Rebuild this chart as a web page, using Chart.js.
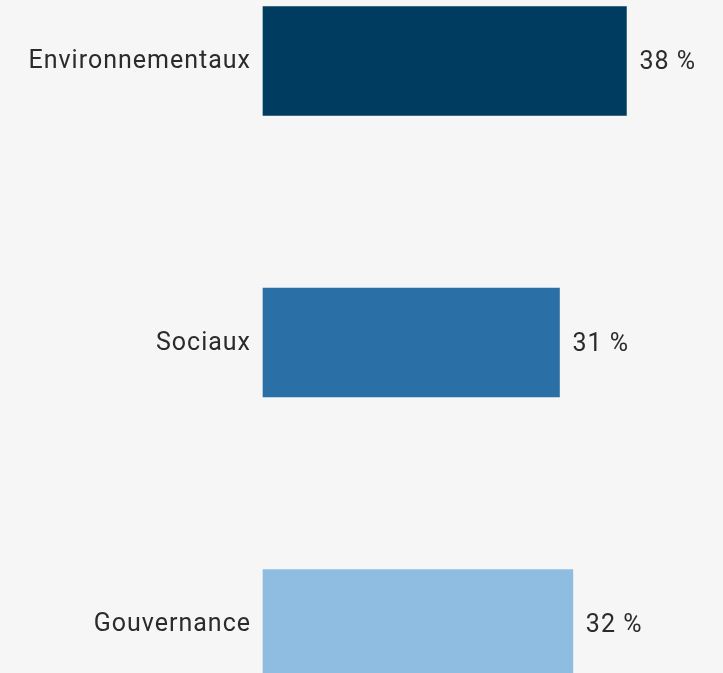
<!DOCTYPE html>
<html>
<head>
<meta charset="utf-8">
<script src="https://cdn.jsdelivr.net/npm/chart.js@4.4.1/dist/chart.umd.min.js"></script>
<style>
  html, body { margin: 0; padding: 0; background: #f6f6f6; }
  #wrap { width: 723px; height: 673px; }
</style>
</head>
<body>
<div id="wrap"><canvas id="esgChart"></canvas></div>
<script>
const categories = ["Environnementaux", "Sociaux", "Gouvernance"];
const shares = [38, 31, 32.4];
const barColors = ["#003c5f", "#2a6fa6", "#8fbde2"];

const fontFamily = "Roboto, 'Noto Sans', sans-serif";
const textColor = "#2b2b2b";

// value labels at the end of each bar, e.g. "38 %"
const valueLabels = {
    id: "valueLabels",
    afterDatasetsDraw(chart) {
        const ctx = chart.ctx;
        const meta = chart.getDatasetMeta(0);
        ctx.save();
        ctx.font = "25px " + fontFamily;
        ctx.fillStyle = textColor;
        ctx.textAlign = "left";
        ctx.textBaseline = "middle";
        ctx.letterSpacing = "1px";
        meta.data.forEach((bar, i) => {
            ctx.fillText(Math.round(shares[i]) + " %", bar.x + 13, bar.y + 2);
        });
        ctx.restore();
    }
};

const spacing = {
    id: "spacing",
    beforeDraw(chart) { chart.ctx.letterSpacing = "1px"; }
};

const ctx = document.getElementById("esgChart").getContext("2d");

new Chart(ctx, {
    type: "bar",
    data: {
        labels: categories,
        datasets: [{
            data: shares,
            backgroundColor: barColors,
            borderWidth: 0,
            barThickness: 109,
            clip: false
        }]
    },
    options: {
        indexAxis: "y",
        responsive: true,
        maintainAspectRatio: false,
        animation: false,
        layout: { padding: { top: 61, bottom: 49, left: 0, right: 0 } },
        scales: {
            x: { display: false, min: 0, max: 48.1 },
            y: {
                offset: false,
                border: { display: false },
                grid: { display: false, drawTicks: false },
                ticks: {
                    color: textColor,
                    padding: 12,
                    labelOffset: 1,
                    font: { family: fontFamily, size: 25 }
                },
                afterFit(scale) { scale.width = 263; }
            }
        },
        plugins: {
            legend: { display: false },
            tooltip: { enabled: false }
        }
    },
    plugins: [spacing, valueLabels]
});
</script>
</body>
</html>
